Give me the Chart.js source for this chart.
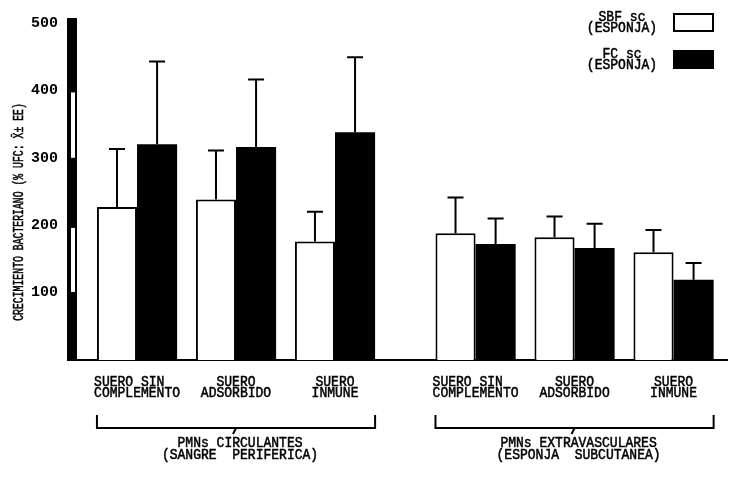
<!DOCTYPE html>
<html>
<head>
<meta charset="utf-8">
<style>
  html, body { margin: 0; padding: 0; background: #fff; }
  canvas { display: block; }
</style>
<script src="https://cdn.jsdelivr.net/npm/chart.js@4/dist/chart.umd.min.js"></script>
</head>
<body>
<canvas id="chart" width="731" height="480"></canvas>
<script>
// Serum conditions, three per neutrophil source
const categories = [
  ['SUERO SIN  ', 'COMPLEMENTO'], ['SUERO', 'ADSORBIDO'], ['SUERO', 'INMUNE'],
  ['SUERO SIN  ', 'COMPLEMENTO'], ['SUERO', 'ADSORBIDO'], ['SUERO', 'INMUNE']
];
const groupTitles = [
  ['PMNs CIRCULANTES', '(SANGRE  PERIFERICA)'],
  ['PMNs EXTRAVASCULARES', '(ESPONJA  SUBCUTANEA)']
];
const seriesNames = [['SBF sc', '(ESPONJA)'], ['FC sc', '(ESPONJA)']];

// Bacterial growth, % CFU: mean and standard error
const sbfMean = [227, 238, 176, 188, 182, 160];
const sbfSE   = [86, 73, 44, 53, 31, 33];
const fcMean  = [320, 316, 338, 172, 166, 119];
const fcSE    = [123, 100, 111, 38, 36, 25];

const yTicks = [100, 200, 300, 400, 500];
const yTitle = 'CRECIMIENTO BACTERIANO (% UFC: X\u0304\u00B1 EE)';

// Layout: the second set of conditions sits a little further right
const PER_GROUP = 3;
const GROUP_GAP = 0.42;
const slot = i => i + Math.floor(i / PER_GROUP) * GROUP_GAP;

const MONO = '"Liberation Mono", "DejaVu Sans Mono", monospace';
const LABEL_FONT = '14px ' + MONO;
const SQUEEZE = 0.93;          // narrow lettering
const INK = '#000';

const toPoints = arr => arr.map((v, i) => ({ x: slot(i), y: v }));

// centred text, horizontally condensed, with slightly heavier strokes
function narrowText(ctx, s, x, y, sx) {
  ctx.save();
  ctx.translate(x, y);
  ctx.scale(sx, 1);
  ctx.fillText(s, 0, 0);
  ctx.lineWidth = 0.5;
  ctx.strokeText(s, 0, 0);
  ctx.restore();
}

const annotations = {
  id: 'annotations',
  afterDatasetsDraw(chart) {
    const ctx = chart.ctx;
    const y = chart.scales.y;
    const errs = [sbfSE, fcSE];
    const means = [sbfMean, fcMean];
    ctx.save();
    ctx.strokeStyle = INK;
    ctx.lineWidth = 2;
    chart.data.datasets.forEach((ds, d) => {
      chart.getDatasetMeta(d).data.forEach((bar, i) => {
        const top = y.getPixelForValue(means[d][i] + errs[d][i]);
        ctx.beginPath();
        ctx.moveTo(bar.x, bar.y);
        ctx.lineTo(bar.x, top);
        ctx.moveTo(bar.x - 8, top);
        ctx.lineTo(bar.x + 8, top);
        ctx.stroke();
      });
    });
    ctx.restore();
  },
  afterDraw(chart) {
    const ctx = chart.ctx;
    const area = chart.chartArea;
    const x = chart.scales.x;
    const y = chart.scales.y;
    ctx.save();

    // light streaks inside the heavy value axis
    ctx.fillStyle = '#fff';
    [[300, 397], [101, 196]].forEach(([a, b]) => {
      const p1 = y.getPixelForValue(b), p2 = y.getPixelForValue(a);
      ctx.fillRect(area.left - 1, p1, 4, p2 - p1);
    });

    ctx.fillStyle = INK;
    ctx.strokeStyle = INK;
    ctx.textAlign = 'center';
    ctx.textBaseline = 'middle';

    // value axis title
    ctx.font = '14px ' + MONO;
    ctx.save();
    ctx.translate(19, 212);
    ctx.rotate(-Math.PI / 2);
    narrowText(ctx, yTitle, 0, 0, 0.7);
    ctx.restore();

    // condition labels under the bars
    ctx.font = LABEL_FONT;
    categories.forEach((lines, i) => {
      const cx = x.getPixelForValue(slot(i));
      lines.forEach((s, k) => narrowText(ctx, s, cx, area.bottom + 22 + k * 11.5, SQUEEZE));
    });

    // brackets and source titles under each set of conditions
    const m0 = chart.getDatasetMeta(0).data;
    const m1 = chart.getDatasetMeta(1).data;
    groupTitles.forEach((lines, g) => {
      const first = m0[g * PER_GROUP], last = m1[g * PER_GROUP + PER_GROUP - 1];
      const l = first.x - first.width / 2, r = last.x + last.width / 2;
      const t = area.bottom + 55, b = area.bottom + 68, mid = (l + r) / 2;
      ctx.lineWidth = 2;
      ctx.beginPath();
      ctx.moveTo(l, t); ctx.lineTo(l, b); ctx.lineTo(r, b); ctx.lineTo(r, t);
      ctx.moveTo(mid, b); ctx.lineTo(mid - 3, b + 6);
      ctx.stroke();
      lines.forEach((s, k) => narrowText(ctx, s, mid + 4, area.bottom + 83 + k * 12.5, SQUEEZE));
    });

    // legend with boxes on the right
    const fills = ['#fff', INK];
    seriesNames.forEach((lines, k) => {
      const top = 13 + k * 37;
      lines.forEach((s, j) => narrowText(ctx, s, 622, top + 4 + j * 11.5, SQUEEZE));
      ctx.fillStyle = fills[k];
      ctx.fillRect(673, top, 41, 19);
      ctx.lineWidth = 2;
      ctx.strokeRect(674, top + 1, 39, 17);
      ctx.fillStyle = INK;
    });
    ctx.restore();
  }
};

new Chart(document.getElementById('chart'), {
  type: 'bar',
  data: {
    datasets: [
      { label: seriesNames[0].join(' '), data: toPoints(sbfMean), backgroundColor: '#fff', borderColor: INK, borderWidth: 2 },
      { label: seriesNames[1].join(' '), data: toPoints(fcMean), backgroundColor: INK, borderColor: INK, borderWidth: 0 }
    ]
  },
  options: {
    responsive: false,
    animation: false,
    devicePixelRatio: 1,
    layout: { padding: { top: 16, right: 4, bottom: 0, left: 0 } },
    datasets: { bar: { categoryPercentage: 0.81, barPercentage: 1 } },
    plugins: { legend: { display: false }, tooltip: { enabled: false } },
    scales: {
      x: {
        type: 'linear',
        min: -0.657,
        max: 5.96,
        offset: false,
        grid: { display: false, drawTicks: false },
        border: { display: true, color: INK, width: 2 },
        afterBuildTicks: s => { s.ticks = categories.map((_, i) => ({ value: slot(i) })); },
        afterFit: s => { s.height = 120; },
        ticks: { display: false }
      },
      y: {
        min: 0,
        max: 500,
        afterBuildTicks: s => { s.ticks = yTicks.map(v => ({ value: v })); },
        afterFit: s => { s.width = 72; },
        grid: { display: false, drawTicks: false },
        border: { display: true, color: INK, width: 10 },
        ticks: { padding: 14, color: INK, font: { family: MONO, size: 15, weight: 'bold' } }
      }
    }
  },
  plugins: [annotations]
});
</script>
</body>
</html>
